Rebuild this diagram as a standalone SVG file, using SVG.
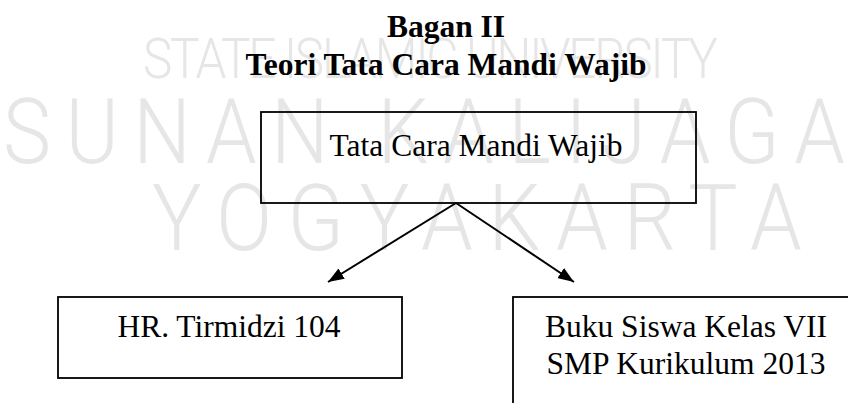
<svg xmlns="http://www.w3.org/2000/svg" width="848" height="403" viewBox="0 0 848 403">
<style>
.wm{font-family:"Roboto","Liberation Sans","Noto Sans",sans-serif;font-weight:300;fill:#e6e6e6;}
.t{font-family:"Liberation Serif","Times New Roman",serif;font-size:31.5px;fill:#000;text-anchor:middle;}
.b{font-weight:bold;}
.box{fill:none;stroke:#000;stroke-width:1.8;}
.con{fill:none;stroke:#000;stroke-width:2;}
</style>
<defs>
<marker id="ah" viewBox="0 0 16 12" refX="16" refY="6" markerWidth="16" markerHeight="12" markerUnits="userSpaceOnUse" orient="auto">
<path d="M0,0 L16,6 L0,12 z" fill="#000"/>
</marker>
</defs>
<rect width="848" height="403" fill="#fff"/>
<g id="watermark">
<text class="wm" transform="scale(0.9,1)" x="158.9" y="78" font-size="55" textLength="638.9" lengthAdjust="spacing">STATE ISLAMIC UNIVERSITY</text>
<text class="wm" transform="scale(0.9,1)" x="3.3" y="163" font-size="90" textLength="935.5" lengthAdjust="spacing">SUNAN KALIJAGA</text>
<text class="wm" transform="scale(0.9,1)" x="168.9" y="250" font-size="92" textLength="722" lengthAdjust="spacing">YOGYAKARTA</text>
</g>
<g id="title">
<text class="t b" x="446" y="37">Bagan II</text>
<text class="t b" x="446" y="75">Teori Tata Cara Mandi Wajib</text>
</g>
<g id="connectors">
<path class="con" d="M456,203 L328,282" marker-end="url(#ah)"/>
<path class="con" d="M456,203 L574,282" marker-end="url(#ah)"/>
</g>
<g id="node-main">
<rect class="box" x="261" y="112" width="435" height="91"/>
<text class="t" x="476" y="156">Tata Cara Mandi Wajib</text>
</g>
<g id="node-hr">
<rect class="box" x="58" y="297" width="344" height="81"/>
<text class="t" x="229" y="337">HR. Tirmidzi 104</text>
</g>
<g id="node-buku">
<rect class="box" x="513" y="297" width="400" height="200"/>
<text class="t" x="686" y="337">Buku Siswa Kelas VII</text>
<text class="t" x="686" y="374">SMP Kurikulum 2013</text>
</g>
</svg>
